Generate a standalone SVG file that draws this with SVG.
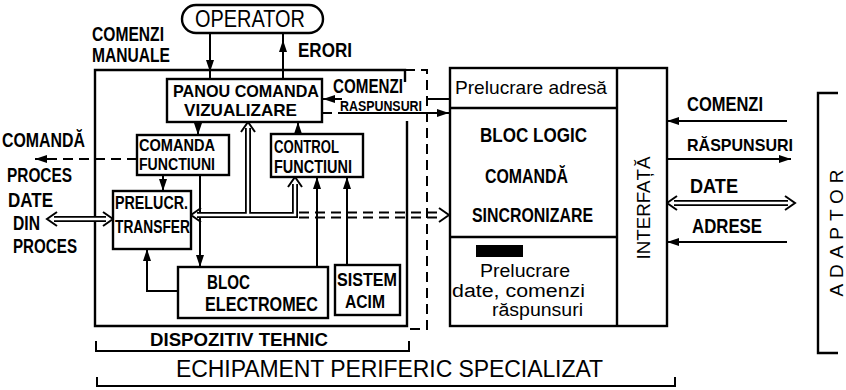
<svg xmlns="http://www.w3.org/2000/svg" width="846" height="390" viewBox="0 0 846 390">
<style>
.box{fill:#fff;stroke:#000;stroke-width:2.4}
.ln{fill:none;stroke:#000;stroke-width:2}
.dash{stroke-dasharray:10 6}
.t{font-family:"Liberation Sans",Arial,sans-serif;font-weight:bold;fill:#000}
.n{font-weight:normal}
.busb{fill:none;stroke:#000;stroke-width:6}
.busw{fill:none;stroke:#fff;stroke-width:2.4}
.chev{fill:none;stroke:#000;stroke-width:2}
</style>
<defs>
<marker id="ah" viewBox="0 0 12 8" refX="12" refY="4" markerWidth="12" markerHeight="8" orient="auto" markerUnits="userSpaceOnUse"><path d="M0,0 L12,4 L0,8 z"/></marker>
</defs>
<rect width="846" height="390" fill="#fff"/>

<g id="dispozitiv-tehnic">
<path class="ln" style="stroke-width:2.4" d="M405,82 V70 H95 V326 H407 V121"/>
<path class="ln dash" d="M405,70 H427 V329 H410"/>
</g>

<g id="connectors">
<path class="ln" d="M210,33 V72" marker-end="url(#ah)"/>
<path class="ln" d="M210,72 V79"/>
<path class="ln" d="M283,79 V40" marker-end="url(#ah)"/>
<path class="ln" d="M283,40 V33"/>
<path class="ln" d="M450,99 H427"/>
<path class="ln" d="M342,99 H323" marker-end="url(#ah)"/>
<path class="ln dash" d="M322,113 H340"/>
<path class="ln" d="M340,113 H449" marker-end="url(#ah)"/>
<path class="ln" d="M198,122 V135" marker-end="url(#ah)"/>
<path class="ln" d="M163,175 V191" marker-end="url(#ah)"/>
<path class="ln" d="M200,175 V267" marker-end="url(#ah)"/>
<path class="ln" d="M178,291 H147 V249" marker-end="url(#ah)"/>
<path class="ln" d="M298,134 V122" marker-end="url(#ah)"/>
<path class="ln" d="M317,267 V177" marker-end="url(#ah)"/>
<path class="ln" d="M347,265 V177" marker-end="url(#ah)"/>
<path class="ln dash" d="M137,159 H35" marker-end="url(#ah)"/>
<path class="busb" d="M197,215 H295 V184 M248,215 V128"/>
<path class="busw" d="M197,215 H295 V184 M248,215 V128"/>
<polyline class="chev" points="201,208 191,215 201,222"/>
<polyline class="chev" points="288,187 295,177 302,187"/>
<polyline class="chev" points="241,132 248,122 255,132"/>
<path class="ln dash" d="M299,212.5 H443 M299,217.5 H443"/>
<polyline class="chev" points="439,208 449,215 439,222"/>
<path class="busb" d="M54,219 H106"/>
<path class="busw" d="M54,219 H106"/>
<polyline class="chev" points="57,212 47,219 57,226"/>
<polyline class="chev" points="103,212 113,219 103,226"/>
<path class="ln" d="M787,121 H667" marker-end="url(#ah)"/>
<path class="ln" d="M667,159 H791" marker-end="url(#ah)"/>
<path class="busb" d="M674,203 H788"/>
<path class="busw" d="M674,203 H788"/>
<polyline class="chev" points="677,196 667,203 677,210"/>
<polyline class="chev" points="785,196 795,203 785,210"/>
<path class="ln" d="M787,242 H667" marker-end="url(#ah)"/>
</g>

<g id="labels">
<text class="t" x="92" y="41" font-size="20" textLength="72" lengthAdjust="spacingAndGlyphs">COMENZI</text>
<text class="t" x="92" y="62" font-size="20" textLength="78" lengthAdjust="spacingAndGlyphs">MANUALE</text>
<text class="t" x="298" y="57" font-size="20" textLength="54" lengthAdjust="spacingAndGlyphs">ERORI</text>
<text class="t" x="333" y="93" font-size="20" textLength="70" lengthAdjust="spacingAndGlyphs">COMENZI</text>
<text class="t" x="340" y="111" font-size="14" textLength="82" lengthAdjust="spacingAndGlyphs">RASPUNSURI</text>
<text class="t" x="2" y="147" font-size="20" textLength="83" lengthAdjust="spacingAndGlyphs">COMANDĂ</text>
<text class="t" x="7" y="182" font-size="20" textLength="65" lengthAdjust="spacingAndGlyphs">PROCES</text>
<text class="t" x="8" y="207" font-size="20" textLength="45" lengthAdjust="spacingAndGlyphs">DATE</text>
<text class="t" x="13" y="230" font-size="20" textLength="27" lengthAdjust="spacingAndGlyphs">DIN</text>
<text class="t" x="13" y="253" font-size="20" textLength="64" lengthAdjust="spacingAndGlyphs">PROCES</text>
<text class="t" x="687" y="111" font-size="20" textLength="76" lengthAdjust="spacingAndGlyphs">COMENZI</text>
<text class="t" x="687" y="151" font-size="17" textLength="106" lengthAdjust="spacingAndGlyphs">RĂSPUNSURI</text>
<text class="t" x="690" y="193" font-size="20" textLength="48" lengthAdjust="spacingAndGlyphs">DATE</text>
<text class="t" x="692" y="233" font-size="20" textLength="70" lengthAdjust="spacingAndGlyphs">ADRESE</text>
</g>

<g id="operator">
<rect class="box" x="182" y="5" width="141" height="28" rx="14"/>
<text class="t n" x="195" y="27" font-size="23" textLength="110" lengthAdjust="spacingAndGlyphs">OPERATOR</text>
</g>

<g id="panou-comanda">
<rect class="box" x="167" y="79" width="155" height="43"/>
<text class="t" x="173" y="97" font-size="17" textLength="146" lengthAdjust="spacingAndGlyphs">PANOU COMANDA</text>
<text class="t" x="184" y="116" font-size="17" textLength="113" lengthAdjust="spacingAndGlyphs">VIZUALIZARE</text>
</g>

<g id="comanda-functiuni">
<rect class="box" x="137" y="135" width="92" height="40"/>
<text class="t" x="139" y="151" font-size="16" textLength="76" lengthAdjust="spacingAndGlyphs">COMANDA</text>
<text class="t" x="139" y="170" font-size="16" textLength="76" lengthAdjust="spacingAndGlyphs">FUNCTIUNI</text>
</g>

<g id="control-functiuni">
<rect class="box" x="271" y="134" width="92" height="43"/>
<text class="t" x="274" y="153" font-size="18" textLength="65" lengthAdjust="spacingAndGlyphs">CONTROL</text>
<text class="t" x="274" y="173" font-size="18" textLength="78" lengthAdjust="spacingAndGlyphs">FUNCTIUNI</text>
</g>

<g id="prelucr-transfer">
<rect class="box" x="113" y="191" width="78" height="58"/>
<text class="t" x="115" y="209" font-size="19" textLength="73" lengthAdjust="spacingAndGlyphs">PRELUCR.</text>
<text class="t" x="115" y="233" font-size="19" textLength="75" lengthAdjust="spacingAndGlyphs">TRANSFER</text>
</g>

<g id="bloc-electromec">
<rect class="box" x="178" y="267" width="150" height="51"/>
<text class="t" x="207" y="289" font-size="20" textLength="43" lengthAdjust="spacingAndGlyphs">BLOC</text>
<text class="t" x="205" y="311" font-size="20" textLength="113" lengthAdjust="spacingAndGlyphs">ELECTROMEC</text>
</g>

<g id="sistem-acim">
<rect class="box" x="335" y="265" width="65" height="50"/>
<text class="t" x="337" y="286" font-size="19" textLength="60" lengthAdjust="spacingAndGlyphs">SISTEM</text>
<text class="t" x="345" y="308" font-size="19" textLength="40" lengthAdjust="spacingAndGlyphs">ACIM</text>
</g>

<g id="bloc-logic">
<rect class="box" x="450" y="68" width="217" height="258"/>
<path class="ln" style="stroke-width:2.4" d="M450,108 H617 M450,237 H617"/>
<text class="t n" x="455" y="94" font-size="19" textLength="152" lengthAdjust="spacingAndGlyphs">Prelucrare adresă</text>
<text class="t" x="480" y="142" font-size="20" textLength="107" lengthAdjust="spacingAndGlyphs">BLOC LOGIC</text>
<text class="t" x="485" y="183" font-size="20" textLength="83" lengthAdjust="spacingAndGlyphs">COMANDĂ</text>
<text class="t" x="472" y="222" font-size="20" textLength="121" lengthAdjust="spacingAndGlyphs">SINCRONIZARE</text>
<rect x="476" y="245" width="47" height="12" fill="#000"/>
<text class="t n" x="480" y="277" font-size="18" textLength="90" lengthAdjust="spacingAndGlyphs">Prelucrare</text>
<text class="t n" x="452" y="297" font-size="18" textLength="133" lengthAdjust="spacingAndGlyphs">date, comenzi</text>
<text class="t n" x="492" y="316" font-size="18" textLength="91" lengthAdjust="spacingAndGlyphs">răspunsuri</text>
</g>

<g id="interfata">
<path class="ln" style="stroke-width:2.4" d="M617,68 V326"/>
<text class="t n" transform="translate(650,208) rotate(-90)" text-anchor="middle" font-size="19" textLength="103" lengthAdjust="spacingAndGlyphs">INTERFAȚĂ</text>
</g>

<g id="adaptor">
<path class="ln" style="stroke-width:2.4" d="M838,93 H818 V353 H838"/>
<text class="t n" transform="translate(843,233) rotate(-90)" text-anchor="middle" font-size="19" textLength="127" lengthAdjust="spacing">ADAPTOR</text>
</g>

<g id="brackets">
<path class="ln" d="M96,341 V351 H409 V341"/>
<text class="t" x="150" y="346" font-size="18" textLength="178" lengthAdjust="spacingAndGlyphs">DISPOZITIV TEHNIC</text>
<path class="ln" d="M97,377 V386 H675 V377"/>
<text class="t n" x="176" y="377" font-size="23" textLength="427" lengthAdjust="spacing">ECHIPAMENT   PERIFERIC   SPECIALIZAT</text>
</g>
</svg>
